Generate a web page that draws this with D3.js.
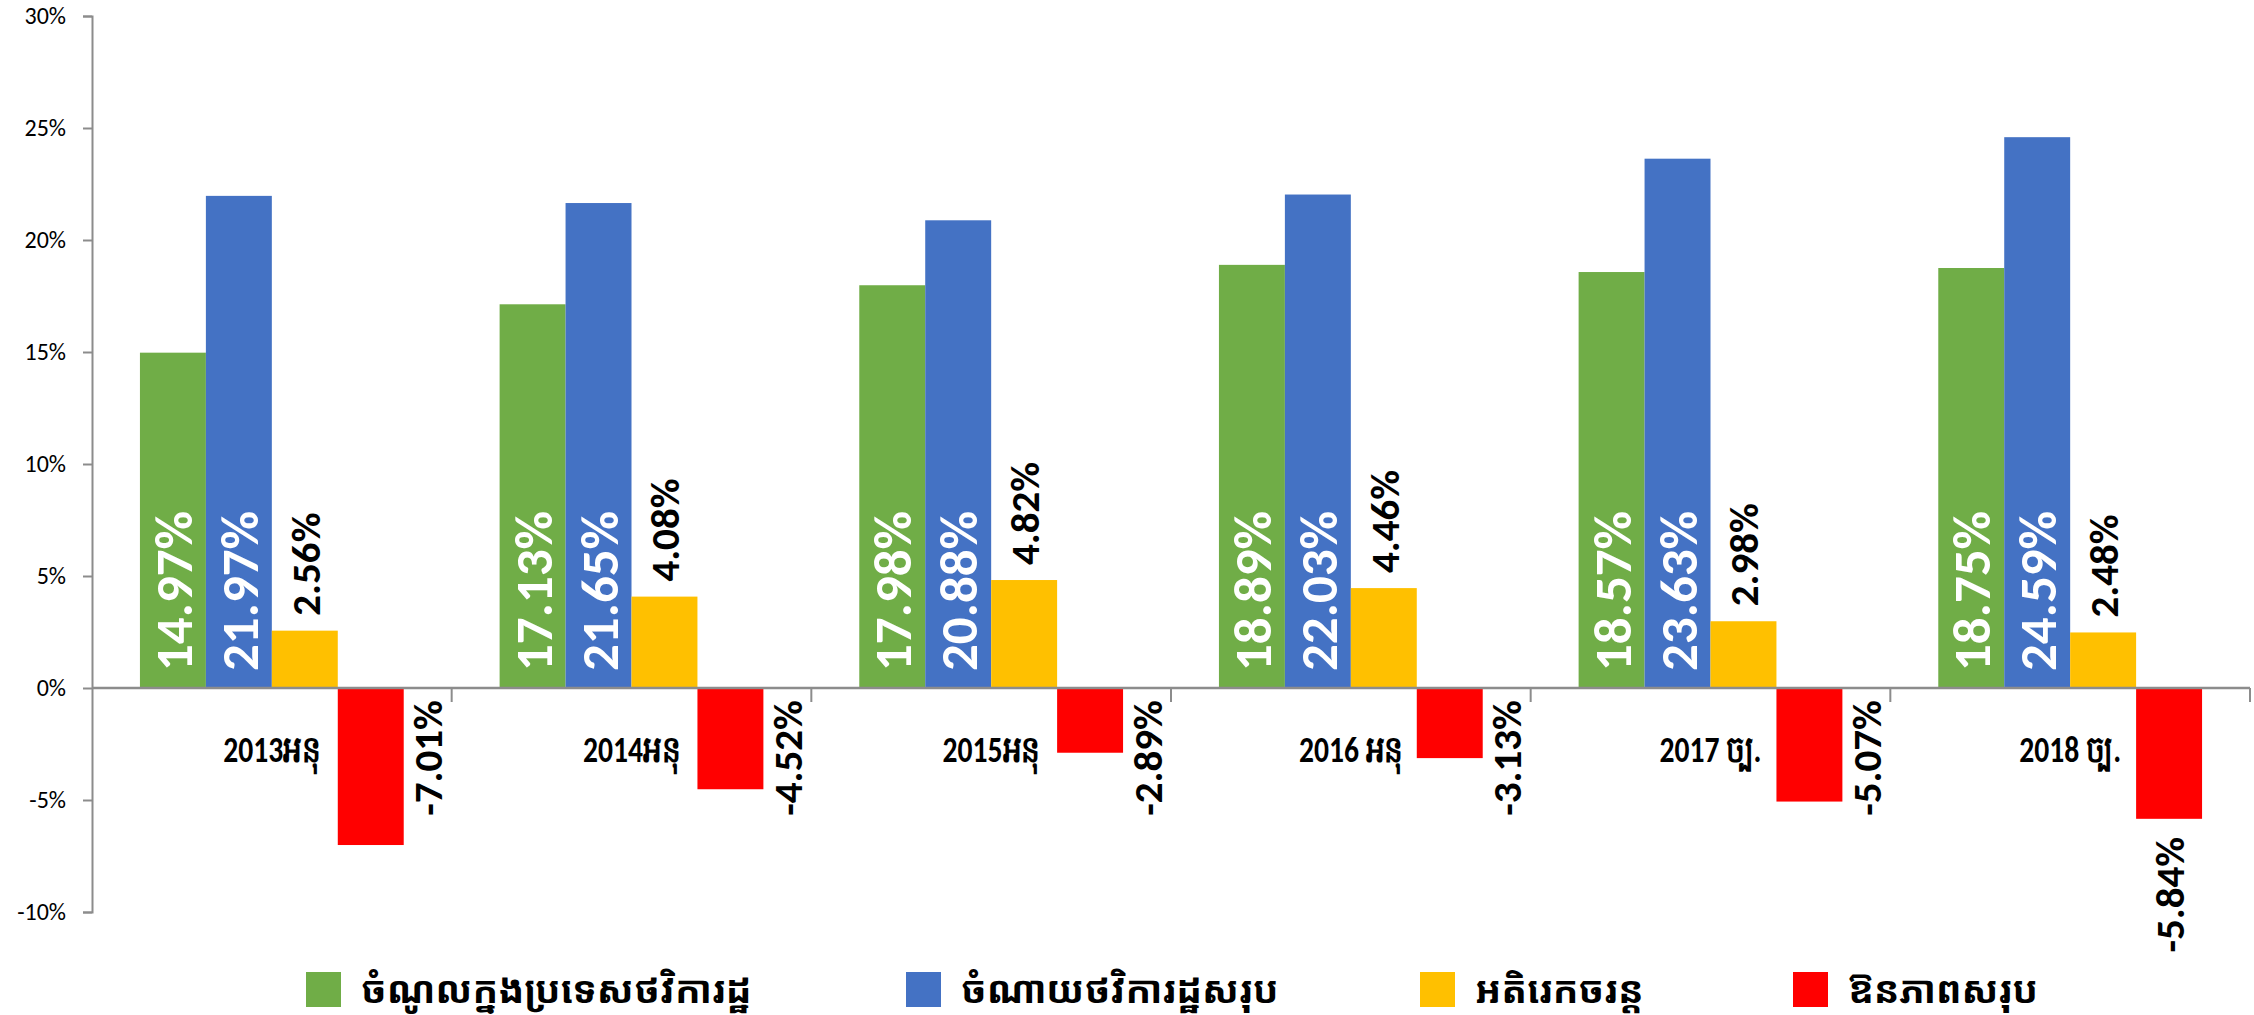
<!DOCTYPE html>
<html>
<head>
<meta charset="utf-8">
<script src="https://cdn.jsdelivr.net/npm/d3@7"></script>
<style>
  html, body { margin: 0; padding: 0; background: #fff; }
  svg { display: block; }
</style>
</head>
<body>
<svg id="chart" width="2254" height="1015"></svg>
<script>
// ---- data ----
const categories = ["2013អនុ", "2014អនុ", "2015អនុ", "2016 អនុ", "2017 ច្ប.", "2018 ច្ប."];
const seriesNames = ["ចំណូលក្នុងប្រទេសថវិការដ្ឋ", "ចំណាយថវិការដ្ឋសរុប", "អតិរេកចរន្ត", "ឱនភាពសរុប"];
const domesticRevenue = [14.97, 17.13, 17.98, 18.89, 18.57, 18.75];
const totalExpenditure = [21.97, 21.65, 20.88, 22.03, 23.63, 24.59];
const currentSurplus = [2.56, 4.08, 4.82, 4.46, 2.98, 2.48];
const overallDeficit = [-7.01, -4.52, -2.89, -3.13, -5.07, -5.84];
const yTicks = [-10, -5, 0, 5, 10, 15, 20, 25, 30];
const seriesColors = ["#70AD47", "#4472C4", "#FFC000", "#FF0000"];

// ---- layout ----
const W = 2254, H = 1015;
const plot = { left: 92, right: 2250, top: 16, bottom: 912 };
const latin = "Calibri, Carlito, Lato, 'Liberation Sans', sans-serif";
const khmer = "'Khmer OS', 'Khmer OS System', 'Noto Sans Khmer', 'Noto Serif Khmer', 'Khmer OS Battambang', 'Hanuman', sans-serif";
const catFont = "'Liberation Sans Narrow', 'Arial Narrow', " + latin;

const svg = d3.select("#chart");

const series = [domesticRevenue, totalExpenditure, currentSurplus, overallDeficit];
const rows = categories.map((c, i) => ({ cat: c, i, vals: series.map(s => s[i]) }));

const x0 = d3.scaleBand().domain(categories).range([plot.left, plot.right]).paddingInner(0).paddingOuter(0);
const x1 = d3.scaleBand().domain(d3.range(4)).range([0, x0.bandwidth()]).paddingInner(0).paddingOuter(0.727);
const y = d3.scaleLinear().domain([-10, 30]).range([plot.bottom, plot.top]);

// bars
const groups = svg.append("g").selectAll("g").data(rows).join("g")
  .attr("transform", d => `translate(${x0(d.cat)},0)`);

groups.selectAll("rect").data(d => d.vals.map((v, k) => ({ v, k, i: d.i }))).join("rect")
  .attr("x", d => x1(d.k))
  .attr("width", x1.bandwidth())
  .attr("y", d => y(Math.max(0, d.v)))
  .attr("height", d => Math.abs(y(d.v) - y(0)))
  .attr("fill", d => seriesColors[d.k]);

// axes
const axisColor = "#8c8c8c";
const yAxis = svg.append("g").attr("transform", `translate(${plot.left},0)`)
  .call(d3.axisLeft(y).tickValues(yTicks).tickSize(9).tickPadding(17).tickFormat(d => d + "%"));
yAxis.select(".domain").attr("stroke", axisColor).attr("stroke-width", 2);
yAxis.selectAll(".tick line").attr("stroke", axisColor).attr("stroke-width", 2);
yAxis.selectAll(".tick text").attr("font-family", latin).attr("font-size", 24).attr("fill", "#000");

// x axis line at zero with boundary ticks
const xAxisG = svg.append("g");
xAxisG.append("line")
  .attr("x1", plot.left).attr("x2", plot.right)
  .attr("y1", y(0)).attr("y2", y(0))
  .attr("stroke", axisColor).attr("stroke-width", 2.5);
const boundaries = categories.map(c => x0(c) + x0.bandwidth());
xAxisG.selectAll("line.tk").data(boundaries).join("line").attr("class", "tk")
  .attr("x1", d => d).attr("x2", d => d)
  .attr("y1", y(0)).attr("y2", y(0) + 14)
  .attr("stroke", axisColor).attr("stroke-width", 2);

// category labels (horizontally condensed to mimic a narrow face)
svg.append("g").selectAll("text").data(categories).join("text")
  .attr("transform", d => `translate(${x0(d) + x0.bandwidth() / 2},${y(0) + 74}) scale(0.8,1)`)
  .attr("text-anchor", "middle")
  .attr("font-family", catFont)
  .attr("font-weight", "bold")
  .attr("font-size", 37)
  .attr("fill", "#000")
  .text(d => d);

// data labels
const fmt = v => v.toFixed(2) + "%";
const labelG = svg.append("g");
rows.forEach(r => {
  const gx = x0(r.cat);
  r.vals.forEach((v, k) => {
    const cx = gx + x1(k) + x1.bandwidth() / 2;
    let tx, ty, anchor, color, size;
    if (k < 2) {
      tx = cx; ty = y(0) - 17; anchor = "start"; color = "#fff"; size = 53;
    } else if (k === 2) {
      tx = cx; ty = y(v) - 15; anchor = "start"; color = "#000"; size = 41;
    } else {
      if (r.i === categories.length - 1) {
        tx = cx; ty = y(v) + 18;
      } else {
        const barRight = gx + x1(k) + x1.bandwidth();
        tx = (barRight + gx + x0.bandwidth()) / 2; ty = y(0) + 12;
      }
      anchor = "end"; color = "#000"; size = 41;
    }
    labelG.append("text")
      .attr("transform", `translate(${tx},${ty}) rotate(-90)`)
      .attr("text-anchor", anchor)
      .attr("dy", "0.36em")
      .attr("font-family", latin)
      .attr("font-weight", "bold")
      .attr("font-size", size)
      .attr("fill", color)
      .text(fmt(v));
  });
});

// legend
const legendX = [306, 906, 1420, 1793];
const legend = svg.append("g").selectAll("g").data(seriesNames).join("g")
  .attr("transform", (d, i) => `translate(${legendX[i]},972)`);
legend.append("rect").attr("width", 35).attr("height", 35).attr("fill", (d, i) => seriesColors[i]);
legend.append("text")
  .attr("x", 55).attr("y", 18).attr("dy", "0.35em")
  .attr("font-family", khmer)
  .attr("font-weight", "bold")
  .attr("font-size", 38)
  .attr("fill", "#000")
  .text(d => d);
</script>
</body>
</html>
